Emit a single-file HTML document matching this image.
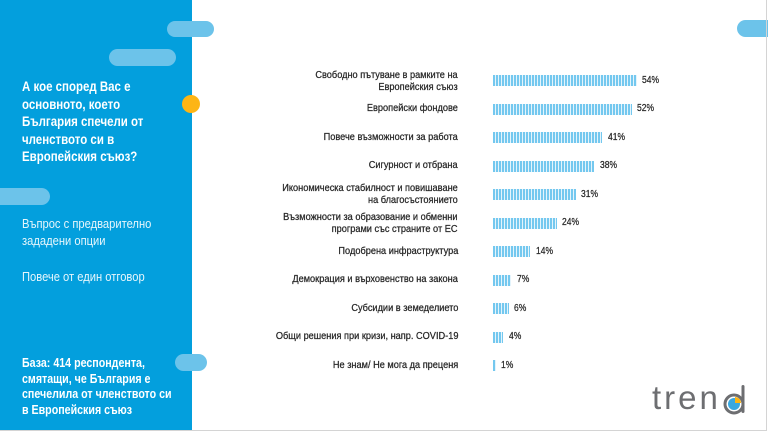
<!DOCTYPE html>
<html><head><meta charset="utf-8"><style>
*{margin:0;padding:0;box-sizing:border-box}
body{width:768px;height:432px;background:#fff;position:relative;overflow:hidden;font-family:"Liberation Sans",sans-serif}
.abs{position:absolute}
.panel{left:0;top:0;width:192px;height:430px;background:#039fdd}
.pill{position:absolute;background:#6cc3ea;border-radius:9px}
.t{position:absolute;white-space:nowrap;color:#fff;transform-origin:left top}
.lab{position:absolute;right:310px;white-space:nowrap;text-align:right;font-size:10px;line-height:12px;color:#262626;-webkit-text-stroke:0.25px #262626;transform:scaleX(.92);transform-origin:right center}
.bar{position:absolute;left:492.5px;height:11px;background:repeating-linear-gradient(90deg,#74c8ef 0 2px,#e4f4fc 2px 3px)}
.val{position:absolute;font-size:10px;line-height:12px;color:#262626;-webkit-text-stroke:0.25px #262626;white-space:nowrap;transform:scaleX(.85);transform-origin:left center}
</style></head><body>
<div class="abs panel"></div>
<div class="pill" style="left:167px;top:21px;width:47px;height:16px"></div>
<div class="pill" style="left:109px;top:49px;width:67px;height:17px"></div>
<div class="pill" style="left:-10px;top:188px;width:60px;height:17px"></div>
<div class="pill" style="left:175px;top:354px;width:32px;height:17px"></div>
<div class="pill" style="left:737px;top:20px;width:40px;height:17px"></div>
<div class="abs" style="left:182px;top:95px;width:18px;height:18px;border-radius:50%;background:#fdb515"></div>
<div class="abs" style="left:766px;top:0;width:1px;height:431px;background:#d4d4d4"></div>
<div class="abs" style="left:0;top:430px;width:767px;height:1px;background:#d4d4d4"></div>

<div class="t" style="left:22px;top:78px;font-size:14px;line-height:17.5px;font-weight:bold;transform:scaleX(.82)">А кое според Вас е<br>основното, което<br>България спечели от<br>членството си в<br>Европейския съюз?</div>
<div class="t" style="left:22px;top:215px;font-size:13px;line-height:17px;color:rgba(255,255,255,.9);transform:scaleX(.86)">Въпрос с предварително<br>зададени опции</div>
<div class="t" style="left:22px;top:268px;font-size:13px;line-height:17px;color:rgba(255,255,255,.9);transform:scaleX(.86)">Повече от един отговор</div>
<div class="t" style="left:22px;top:355px;font-size:13px;line-height:15.5px;font-weight:bold;transform:scaleX(.82)">База: 414 респондента,<br>смятащи, че България е<br>спечелила от членството си<br>в Европейския съюз</div>

<div class="lab" style="top:70px">Свободно пътуване в рамките на<br>Европейския съюз</div>
<div class="lab" style="top:103px">Европейски фондове</div>
<div class="lab" style="top:131.5px">Повече възможности за работа</div>
<div class="lab" style="top:160px">Сигурност и отбрана</div>
<div class="lab" style="top:183px">Икономическа стабилност и повишаване<br>на благосъстоянието</div>
<div class="lab" style="top:211.5px">Възможности за образование и обменни<br>програми със страните от ЕС</div>
<div class="lab" style="top:245.5px">Подобрена инфраструктура</div>
<div class="lab" style="top:274px">Демокрация и върховенство на закона</div>
<div class="lab" style="top:302.5px">Субсидии в земеделието</div>
<div class="lab" style="top:331px">Общи решения при кризи, напр. COVID-19</div>
<div class="lab" style="top:359.5px">Не знам/ Не мога да преценя</div>

<div class="bar" style="top:75px;width:144px"></div><div class="val" style="left:642px;top:74.5px">54%</div>
<div class="bar" style="top:103.5px;width:139px"></div><div class="val" style="left:637px;top:103px">52%</div>
<div class="bar" style="top:132px;width:109.5px"></div><div class="val" style="left:608px;top:131.5px">41%</div>
<div class="bar" style="top:160.5px;width:101.5px"></div><div class="val" style="left:600px;top:160px">38%</div>
<div class="bar" style="top:189px;width:83px"></div><div class="val" style="left:581px;top:188.5px">31%</div>
<div class="bar" style="top:217.5px;width:64px"></div><div class="val" style="left:562px;top:217px">24%</div>
<div class="bar" style="top:246px;width:37.5px"></div><div class="val" style="left:536px;top:245.5px">14%</div>
<div class="bar" style="top:274.5px;width:18.5px"></div><div class="val" style="left:517px;top:274px">7%</div>
<div class="bar" style="top:303px;width:16px"></div><div class="val" style="left:514px;top:302.5px">6%</div>
<div class="bar" style="top:331.5px;width:10.5px"></div><div class="val" style="left:509px;top:331px">4%</div>
<div class="bar" style="top:360px;width:3px"></div><div class="val" style="left:501px;top:359.5px">1%</div>

<div class="abs" style="left:652px;top:378px;font-size:33px;line-height:40px;color:#6d6e71;letter-spacing:3px;white-space:nowrap">tren</div>
<svg class="abs" style="left:721px;top:383px" width="30" height="32" viewBox="0 0 30 32">
<circle cx="13" cy="21" r="9" fill="none" stroke="#6d6e71" stroke-width="3"/>
<rect x="20.5" y="2" width="3" height="28" rx="1.5" fill="#6d6e71"/>
<circle cx="13" cy="21" r="6" fill="#3aa8e0"/>
<path d="M14 20 L14 14 A6 6 0 0 1 20 20 Z" fill="#fdb515"/>
</svg>
</body></html>
